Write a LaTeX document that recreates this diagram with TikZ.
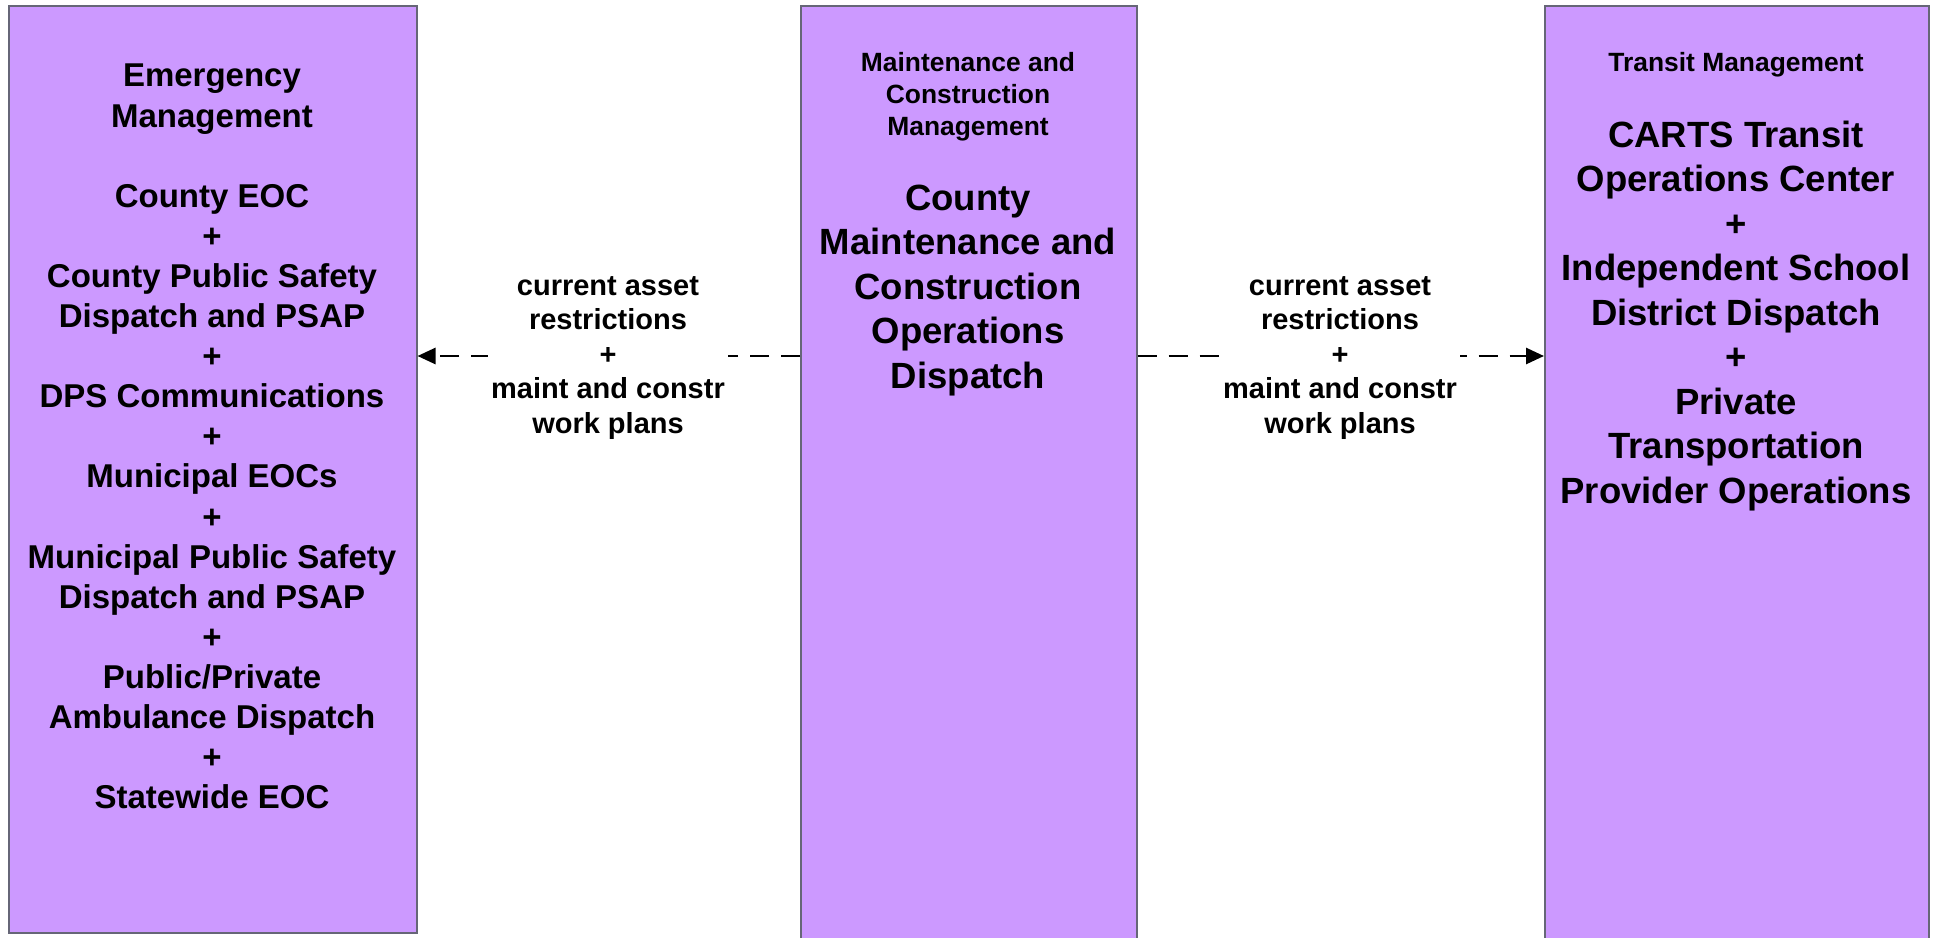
\documentclass[tikz,border=0pt]{standalone}
\usepackage{fontspec}
\setmainfont{Liberation Sans}
\usetikzlibrary{arrows.meta}
\definecolor{boxfill}{HTML}{CC99FF}
\definecolor{boxline}{HTML}{666677}
\begin{document}
\begin{tikzpicture}[x=1pt,y=-1pt,
  box/.style={draw=boxline, line width=1.5pt, fill=boxfill, rectangle, inner sep=0pt, anchor=north west},
  hdr/.style={align=center, font=\bfseries\fontsize{26.4}{32}\selectfont, inner sep=0pt, anchor=north},
  bigtxt/.style={align=center, font=\bfseries\fontsize{36.5}{44.5}\selectfont, inner sep=0pt, anchor=north},
  emtxt/.style={align=center, font=\bfseries\fontsize{33}{40.1}\selectfont, inner sep=0pt, anchor=north},
  flowlbl/.style={align=center, font=\bfseries\fontsize{29}{34.5}\selectfont, fill=white, inner sep=3pt},
  flow/.style={line width=2.7pt, dash pattern=on 19pt off 12pt, -{Triangle[length=18pt,width=16pt]}}
]
\useasboundingbox (0,0) rectangle (1937,937);

\node[box, minimum width=408pt, minimum height=927pt] (em) at (8,5) {};
\node[box, minimum width=336pt, minimum height=960pt] (mc) at (800,5) {};
\node[box, minimum width=384pt, minimum height=960pt] (tm) at (1544,5) {};

\node[emtxt] (emt) at (212,64) {Emergency\\Management\\[40.1pt]County EOC\\+\\County Public Safety\\Dispatch and PSAP\\+\\DPS Communications\\+\\Municipal EOCs\\+\\Municipal Public Safety\\Dispatch and PSAP\\+\\Public/Private\\Ambulance Dispatch\\+\\Statewide EOC};

\node[hdr] (mch) at (968,52.5) {Maintenance and\\Construction\\Management};
\node[bigtxt] (mcb) at (968,184.5) {County\\Maintenance and\\Construction\\Operations\\Dispatch};

\node[hdr] (tmh) at (1736,52) {Transit Management};
\node[bigtxt] (tmb) at (1736,120.5) {CARTS Transit\\Operations Center\\+\\Independent School\\District Dispatch\\+\\Private\\Transportation\\Provider Operations};

\coordinate (ay) at (0,356);
\draw[flow] (mc.west |- ay) -- (em.east |- ay);
\draw[flow] (mc.east |- ay) -- (tm.west |- ay);

\node[flowlbl] (l1) at (608,358) {current asset\\restrictions\\+\\maint and constr\\work plans};
\node[flowlbl] (l2) at (1340,358) {current asset\\restrictions\\+\\maint and constr\\work plans};
\end{tikzpicture}
\end{document}
